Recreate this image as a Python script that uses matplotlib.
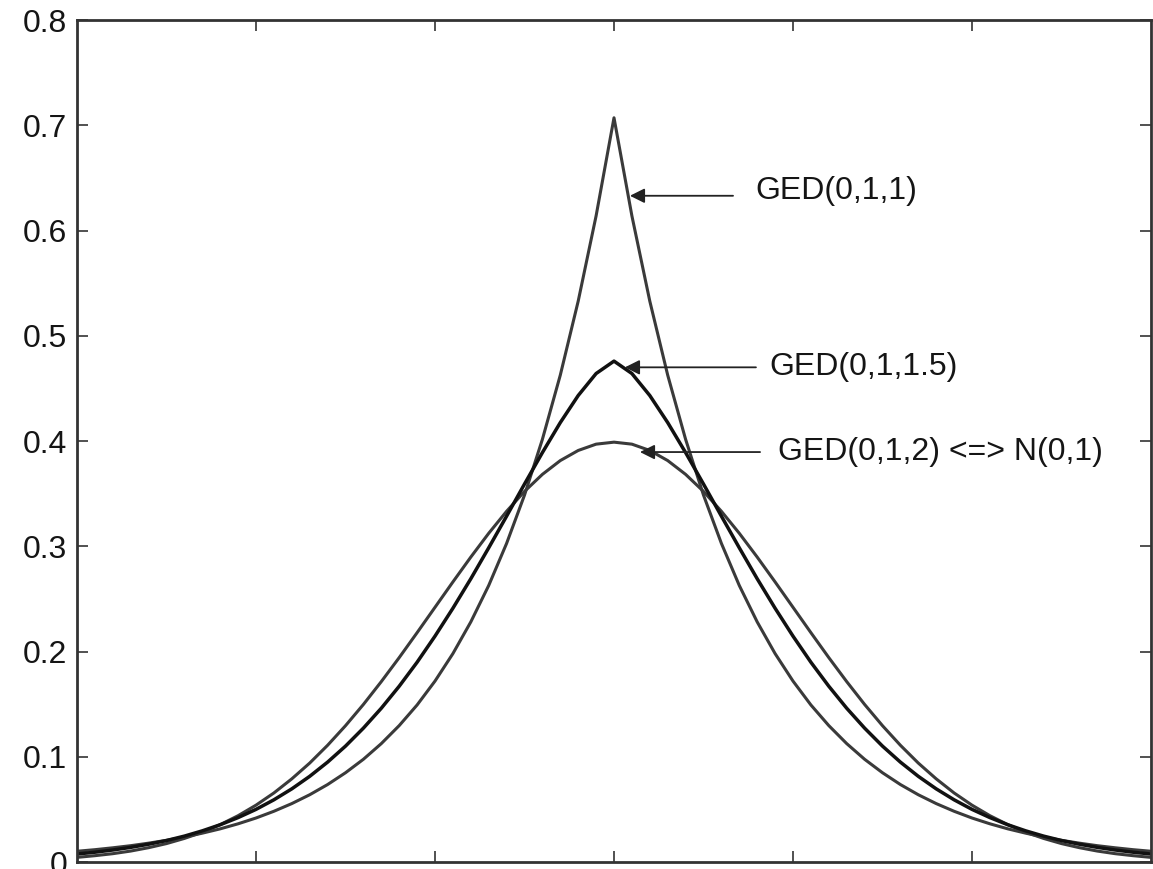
import matplotlib
matplotlib.use("Agg")
import matplotlib.pyplot as plt

x_vals = [-3.0,-2.9,-2.8,-2.7,-2.6,-2.5,-2.4,-2.3,-2.2,-2.1,-2.0,-1.9,-1.8,-1.7,-1.6,-1.5,-1.4,-1.3,-1.2,-1.1,
          -1.0,-0.9,-0.8,-0.7,-0.6,-0.5,-0.4,-0.3,-0.2,-0.1,0.0,0.1,0.2,0.3,0.4,0.5,0.6,0.7,0.8,0.9,
          1.0,1.1,1.2,1.3,1.4,1.5,1.6,1.7,1.8,1.9,2.0,2.1,2.2,2.3,2.4,2.5,2.6,2.7,2.8,2.9,3.0]

ged_1 = [0.0102,0.0117,0.0135,0.0155,0.0179,0.0206,0.0237,0.0274,0.0315,0.0363,0.0418,0.0482,0.0555,0.0639,0.0736,
         0.0848,0.0976,0.1125,0.1296,0.1492,0.1719,0.1980,0.2281,0.2627,0.3027,0.3486,0.4016,0.4626,0.5329,0.6139,
         0.7071,
         0.6139,0.5329,0.4626,0.4016,0.3486,0.3027,0.2627,0.2281,0.1980,0.1719,0.1492,0.1296,0.1125,0.0976,0.0848,
         0.0736,0.0639,0.0555,0.0482,0.0418,0.0363,0.0315,0.0274,0.0237,0.0206,0.0179,0.0155,0.0135,0.0117,0.0102]

ged_15 = [0.0076,0.0093,0.0114,0.0139,0.0169,0.0204,0.0246,0.0296,0.0354,0.0422,0.0500,0.0591,0.0695,0.0814,0.0949,
          0.1101,0.1272,0.1461,0.1670,0.1898,0.2146,0.2411,0.2691,0.2985,0.3286,0.3591,0.3890,0.4175,0.4432,0.4641,
          0.4759,
          0.4641,0.4432,0.4175,0.3890,0.3591,0.3286,0.2985,0.2691,0.2411,0.2146,0.1898,0.1670,0.1461,0.1272,0.1101,
          0.0949,0.0814,0.0695,0.0591,0.0500,0.0422,0.0354,0.0296,0.0246,0.0204,0.0169,0.0139,0.0114,0.0093,0.0076]

ged_2 = [0.0044,0.0060,0.0079,0.0104,0.0136,0.0175,0.0224,0.0283,0.0355,0.0440,0.0540,0.0656,0.0790,0.0940,0.1109,
         0.1295,0.1497,0.1714,0.1942,0.2179,0.2420,0.2661,0.2897,0.3123,0.3332,0.3521,0.3683,0.3814,0.3910,0.3970,
         0.3989,
         0.3970,0.3910,0.3814,0.3683,0.3521,0.3332,0.3123,0.2897,0.2661,0.2420,0.2179,0.1942,0.1714,0.1497,0.1295,
         0.1109,0.0940,0.0790,0.0656,0.0540,0.0440,0.0355,0.0283,0.0224,0.0175,0.0136,0.0104,0.0079,0.0060,0.0044]

labels = ["GED(0,1,1)", "GED(0,1,1.5)", "GED(0,1,2) <=> N(0,1)"]
arrow_tips = [(0.089, 0.633), (0.061, 0.470), (0.145, 0.3895)]
arrow_tails = [(0.665, 0.633), (0.793, 0.470), (0.816, 0.3895)]
text_pos = [(0.79, 0.638), (0.87, 0.470), (0.915, 0.3895)]

y_ticks = [0, 0.1, 0.2, 0.3, 0.4, 0.5, 0.6, 0.7, 0.8]
y_ticklabels = ["0", "0.1", "0.2", "0.3", "0.4", "0.5", "0.6", "0.7", "0.8"]
x_ticks = [-2, -1, 0, 1, 2]

plt.rcParams['font.family'] = ['Liberation Sans', 'DejaVu Sans']

fig = plt.figure(figsize=(11.53, 8.69), dpi=100)
ax = fig.add_axes([77/1153, 1 - 862/869, (1151 - 77)/1153, (862 - 20)/869])

ax.plot(x_vals, ged_2, color='#3a3a3a', lw=2.2)
ax.plot(x_vals, ged_1, color='#3a3a3a', lw=2.2)
ax.plot(x_vals, ged_15, color='#111111', lw=2.5)

for lab, tip, tail, tp in zip(labels, arrow_tips, arrow_tails, text_pos):
    ax.annotate("", xy=tip, xytext=tail,
                arrowprops=dict(arrowstyle='-|>', color='#222222', lw=1.3,
                                mutation_scale=22, shrinkA=0, shrinkB=0))
    ax.text(tp[0], tp[1], lab, fontsize=23, va='center', ha='left', color='#151515')

ax.set_xlim(-3, 3)
ax.set_ylim(0, 0.8)
ax.set_xticks(x_ticks)
ax.set_xticklabels([])
ax.set_yticks(y_ticks)
ax.set_yticklabels(y_ticklabels, fontsize=23, color='#151515')
ax.tick_params(direction='in', length=8, width=1.2, top=True, right=True, pad=7, colors='#333333')
ax.tick_params(axis='y', labelcolor='#151515')
for s in ax.spines.values():
    s.set_linewidth(2.0)
    s.set_color('#333333')

fig.savefig("out.png", dpi=100)
